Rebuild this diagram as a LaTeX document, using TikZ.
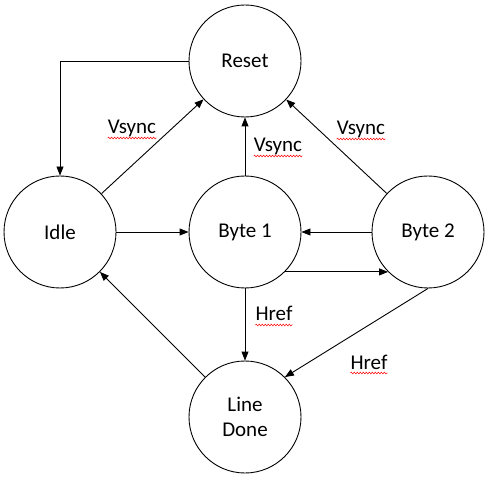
\documentclass[tikz,border=0pt]{standalone}
\usepackage{fontspec}
\setmainfont{Carlito}
\usetikzlibrary{arrows.meta,decorations.pathmorphing}
\begin{document}
\begin{tikzpicture}[x=1pt,y=-1pt,
  state/.style={circle,draw,line width=0.9pt,minimum size=112pt,inner sep=0pt,align=center,
    font=\fontsize{21}{25.5}\selectfont},
  edge/.style={draw,line width=0.9pt,-{Triangle[length=9pt,width=7pt]}},
  lbl/.style={anchor=base,inner sep=0pt,font=\fontsize{21}{25.5}\selectfont},
  squig/.style={draw=red,line width=0.5pt,decorate,decoration={snake,amplitude=0.9pt,segment length=3pt}}]
\useasboundingbox (0,0) rectangle (490,478);
\node[state] (reset) at (245,61) {Reset};
\node[state] (idle) at (60,232) {Idle};
\node[state] (byte1) at (245,232) {Byte 1};
\node[state] (byte2) at (428,232) {Byte 2};
\node[state] (done) at (245,417) {Line\\Done};

\draw[edge] (reset.west) -| (idle.north);
\draw[edge] (idle) -- (reset);
\draw[edge] (byte1) -- (reset);
\draw[edge] (byte2) -- (reset);
\draw[edge] (idle.east) -- (byte1.west);
\draw[edge] (byte2.west) -- (byte1.east);
\draw[edge] (byte1.-45) -- (byte2.-135);
\draw[edge] (byte1) -- (done);
\draw[edge] (byte2.south) -- (done.45);
\draw[edge] (done) -- (idle);

\node[lbl] (v1) at (132,134) {Vsync};
\node[lbl] (v2) at (278,152) {Vsync};
\node[lbl] (v3) at (361,135) {Vsync};
\node[lbl] (h1) at (274,321) {Href};
\node[lbl] (h2) at (369,369) {Href};
\foreach \n in {v1,v2,v3,h1,h2}
  \draw[squig] ([yshift=-4pt]\n.base west) -- ([yshift=-4pt]\n.base east);
\end{tikzpicture}
\end{document}
